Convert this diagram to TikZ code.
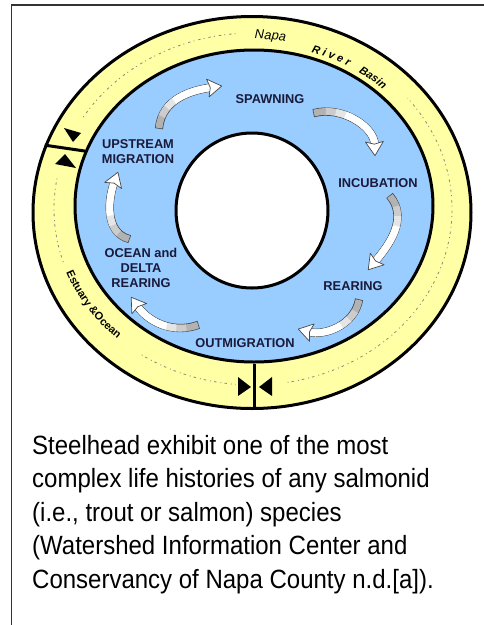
\documentclass[tikz,border=0pt]{standalone}
\usepackage{fontspec}
\setmainfont{Liberation Sans}
\usetikzlibrary{shapes.geometric,decorations.markings,decorations.text}
\definecolor{ringyellow}{HTML}{FFFFA6}
\definecolor{cycleblue}{HTML}{99CCFF}
\definecolor{labelink}{HTML}{1A1A3A}
\definecolor{arrowedge}{HTML}{474747}
\definecolor{dotgray}{HTML}{8A8A7A}
\definecolor{framegray}{HTML}{333333}
\newcommand{\lcarrow}[4]{%
  \draw[draw=arrowedge, line width=8.2pt, shorten >=12pt, shorten <=-0.7pt] (#1) to[out=#3,in=#4] (#2);
  \draw[draw=gray!60, line width=6.8pt, shorten >=12pt] (#1) to[out=#3,in=#4] (#2);
  \draw[draw=gray!40, line width=6.8pt, shorten >=12pt, dash pattern=on 0pt off 12pt on 400pt off 1pt] (#1) to[out=#3,in=#4] (#2);
  \draw[draw=gray!20, line width=6.8pt, shorten >=12pt, dash pattern=on 0pt off 22pt on 400pt off 1pt] (#1) to[out=#3,in=#4] (#2);
  \draw[draw=white, line width=6.8pt, shorten >=12pt, dash pattern=on 0pt off 32pt on 400pt off 1pt] (#1) to[out=#3,in=#4] (#2);
  \path[postaction={decorate, decoration={markings, mark=at position 0.996 with {\filldraw[draw=arrowedge, fill=white, line width=0.7pt, line join=round] (0pt,0pt) -- (-14pt,9pt) -- (-11.5pt,0pt) -- (-14pt,-9pt) -- cycle;}}}] (#1) to[out=#3,in=#4] (#2);
}
\begin{document}
\begin{tikzpicture}[x=1pt,y=1pt,
  ring/.style={ellipse, draw=black, line width=3pt, inner sep=0pt},
  lbl/.style={font=\bfseries\fontsize{12.8}{15}\selectfont, text=labelink, inner sep=0pt, align=center},
  dotring/.style={draw=dotgray, line width=0.8pt, dash pattern=on 1pt off 3pt on 2.5pt off 4pt},
  capt/.style={anchor=base west, inner sep=0pt, font=\fontsize{24}{24}\selectfont},
  divider/.style={draw=black, line width=3pt}]
\useasboundingbox (0,0) rectangle (484,-625);
% frame
\draw[draw=framegray, line width=1.5pt] (484,-5) -- (11.5,-5) -- (11.5,-625);
% rings
\node[ring, fill=ringyellow, minimum width=438pt, minimum height=392pt] (basin) at (252,-212.5) {};
\draw[dotring] (253,-209) ++(95:199pt and 176pt) arc[start angle=95, end angle=149, x radius=199pt, y radius=176pt];
\draw[dotring] (253,-209) ++(170:199pt and 176pt) arc[start angle=170, end angle=198, x radius=199pt, y radius=176pt];
\draw[dotring] (253,-209) ++(236:199pt and 176pt) arc[start angle=236, end angle=265, x radius=199pt, y radius=176pt];
\draw[dotring] (253,-209) ++(-80:199pt and 176pt) arc[start angle=-80, end angle=39, x radius=199pt, y radius=176pt];
\node[ring, fill=cycleblue, minimum width=358pt, minimum height=312pt] (cycle) at (254,-206) {};
\node[ring, fill=white, minimum width=152pt, minimum height=155pt] (hole) at (252,-210.5) {};
% dividers
\draw[divider] (cycle.south) -- (cycle.south |- basin.south);
\draw[divider] (cycle.162) -- (basin.162);
% boundary triangles
\fill[black] (64,-128) -- (81,-133) -- (73,-142) -- cycle;
\fill[black] (65,-154) -- (55,-164) -- (76,-168) -- cycle;
\fill[black] (238,-377) -- (238,-396) -- (251,-387) -- cycle;
\fill[black] (272,-377) -- (272,-396) -- (259,-387) -- cycle;
% ring texts
\path[decorate, decoration={text along path, text align=left, text={|\itshape\fontsize{13}{13}\selectfont|Napa}}]
  (253,-209) ++(89.5:193pt and 170pt) arc[start angle=89.5, end angle=70, x radius=193pt, y radius=170pt];
\path[decorate, decoration={text along path, text align=left, text={|\bfseries\itshape\fontsize{11}{11}\selectfont|R i v e r}}]
  (253,-209) ++(72:189pt and 165pt) arc[start angle=72, end angle=55, x radius=189pt, y radius=165pt];
\path[decorate, decoration={text along path, text align=left, text={|\bfseries\itshape\fontsize{11}{11}\selectfont|Basin}}]
  (253,-209) ++(56:189pt and 165pt) arc[start angle=56, end angle=38, x radius=189pt, y radius=165pt];
\path[decorate, decoration={text along path, text align=left, text={|\bfseries\fontsize{11}{11}\selectfont|Estuary {\&}Ocean}}]
  (253,-209) ++(201:200pt and 177pt) arc[start angle=201, end angle=246, x radius=200pt, y radius=177pt];
% stage labels
\node[lbl] (spawn) at (270,-99) {SPAWNING};
\node[lbl] (upmig) at (138,-152) {UPSTREAM\\MIGRATION};
\node[lbl] (incub) at (378,-183) {INCUBATION};
\node[lbl] (rear) at (353,-286) {REARING};
\node[lbl] (outmig) at (245,-343) {OUTMIGRATION};
\node[lbl] (ocean) at (141,-268) {OCEAN and\\DELTA\\REARING};
% arrow end points
\coordinate (t1) at (159,-128); \coordinate (h1) at (222,-86);
\coordinate (t2) at (314,-113); \coordinate (h2) at (375,-156);
\coordinate (t3) at (390,-196); \coordinate (h3) at (368,-270);
\coordinate (t4) at (359,-300); \coordinate (h4) at (298,-329);
\coordinate (t5) at (198,-325); \coordinate (h5) at (131,-297);
\coordinate (t6) at (129,-239); \coordinate (h6) at (118,-172);
\lcarrow{t1}{h1}{85}{188}
\lcarrow{t2}{h2}{15}{92}
\lcarrow{t3}{h3}{-50}{50}
\lcarrow{t4}{h4}{-100}{-15}
\lcarrow{t5}{h5}{200}{-55}
\lcarrow{t6}{h6}{165}{-110}
% caption
\node[capt] (c1) at (32,-454) {\scalebox{1}[1.1]{Steelhead exhibit one of the most}};
\node[capt] (c2) at (32,-487) {\scalebox{1}[1.1]{complex life histories of any salmonid}};
\node[capt] (c3) at (32,-521) {\scalebox{1}[1.1]{(i.e., trout or salmon) species}};
\node[capt] (c4) at (32,-554) {\scalebox{1}[1.1]{(Watershed Information Center and}};
\node[capt] (c5) at (32,-588) {\scalebox{1}[1.1]{Conservancy of Napa County n.d.[a]).}};
\end{tikzpicture}
\end{document}
